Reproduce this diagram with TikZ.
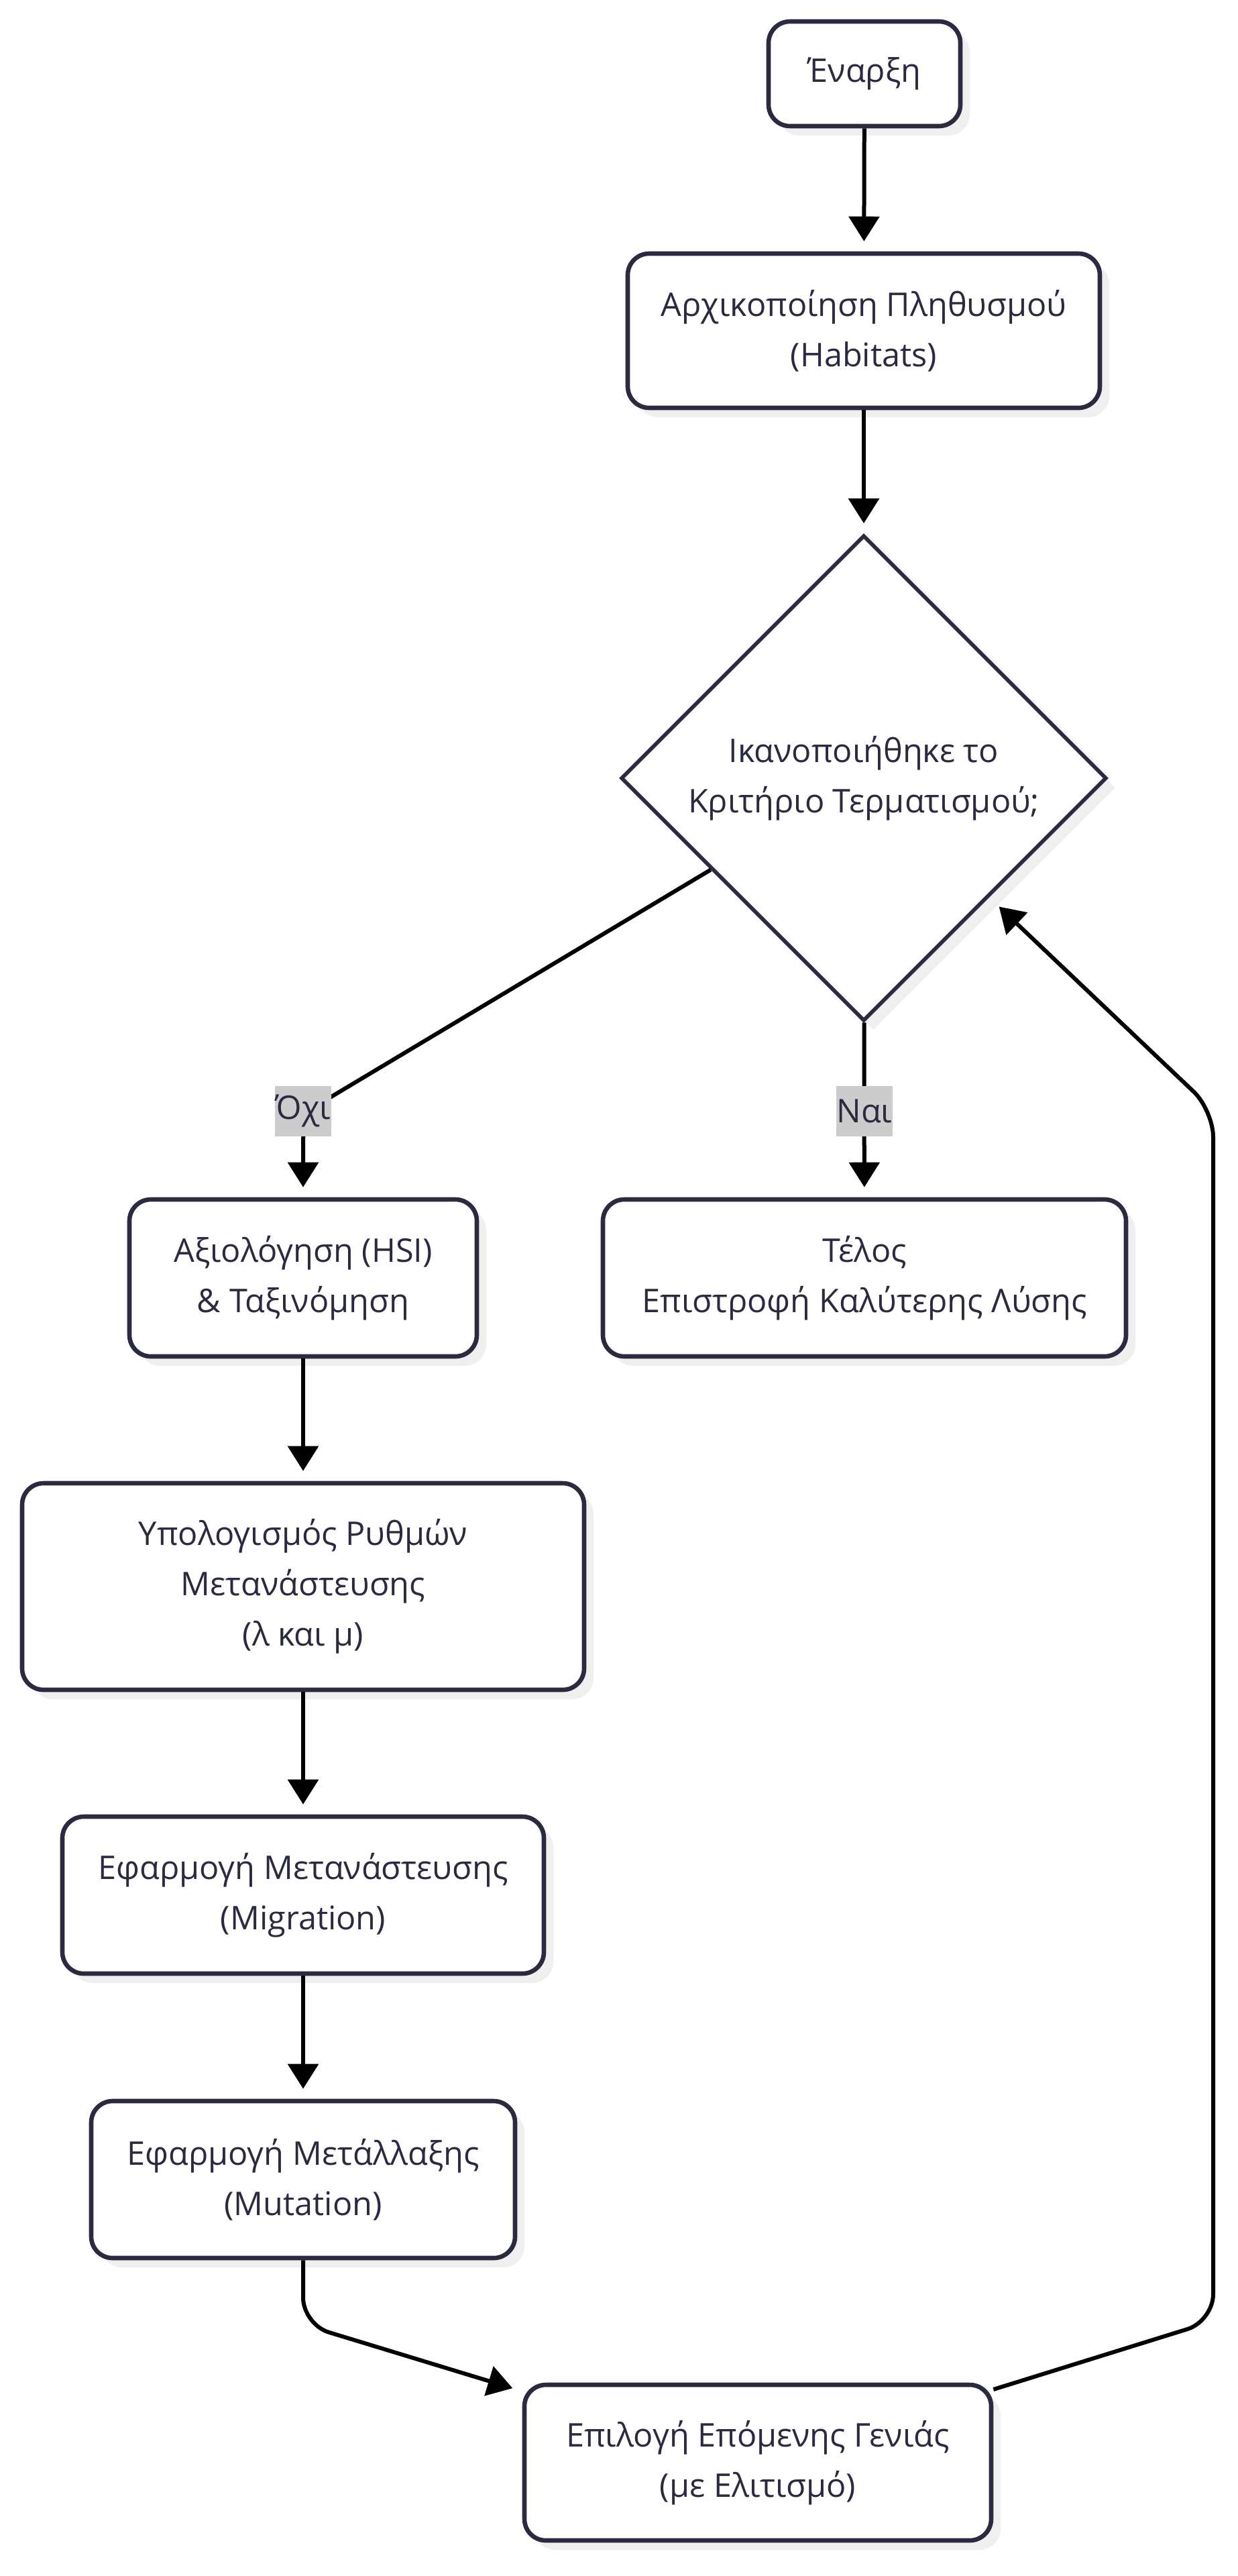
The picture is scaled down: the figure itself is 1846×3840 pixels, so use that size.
\documentclass[tikz,border=0pt]{standalone}
\usepackage{fontspec}
\setmainfont{Open Sans}
\usetikzlibrary{shapes.geometric, arrows.meta, shadows}
\definecolor{ink}{HTML}{2A2A40}
\definecolor{shade}{HTML}{EFEFEF}
\definecolor{tagbg}{HTML}{CCCCCC}

\begin{document}
\begin{tikzpicture}[x=0.5pt, y=-0.5pt,
  every node/.style={font=\fontsize{24.3}{37.5}\selectfont, text=ink},
  stepbox/.style={draw=ink, fill=white, line width=3.3pt, rounded corners=16pt,
    align=center, inner sep=0pt,
    drop shadow={shadow xshift=7pt, shadow yshift=-7pt, fill=shade, opacity=1}},
  decision/.style={diamond, aspect=1, draw=ink, fill=white, line width=2.8pt,
    align=center, inner sep=0pt,
    drop shadow={shadow xshift=7pt, shadow yshift=-7pt, fill=shade, opacity=1}},
  tag/.style={fill=tagbg, inner xsep=0.5pt, inner ysep=0pt, minimum height=37.5pt},
  flow/.style={draw=black, line width=3pt, rounded corners=20pt,
    -{Triangle[length=18.5pt, width=22.5pt]}, shorten >=7.5pt}
]
\path[use as bounding box] (0,0) rectangle (1846,3840);
\fill[white] (0,0) rectangle (1846,3840);

% process steps
\node[stepbox, minimum width=143pt, minimum height=78pt] (start) at (1289,110) {Έναρξη};
\node[stepbox, minimum width=352pt, minimum height=115pt] (init) at (1288,493)
  {Αρχικοποίηση Πληθυσμού\\(Habitats)};
\node[decision, minimum width=362pt, minimum height=362pt] (dec) at (1288,1160)
  {Ικανοποιήθηκε το\\Κριτήριο Τερματισμού;};
\node[stepbox, minimum width=259pt, minimum height=117pt] (eval) at (452,1905)
  {Αξιολόγηση (HSI)\\\& Ταξινόμηση};
\node[stepbox, minimum width=390pt, minimum height=117pt] (finish) at (1289,1905)
  {Τέλος\\Επιστροφή Καλύτερης Λύσης};
\node[stepbox, minimum width=419pt, minimum height=154pt] (rates) at (452,2365)
  {Υπολογισμός Ρυθμών\\Μετανάστευσης\\(λ και μ)};
\node[stepbox, minimum width=359pt, minimum height=117pt] (migr) at (452,2825)
  {Εφαρμογή Μετανάστευσης\\(Migration)};
\node[stepbox, minimum width=316pt, minimum height=117pt] (mut) at (452,3249)
  {Εφαρμογή Μετάλλαξης\\(Mutation)};
\node[stepbox, minimum width=348pt, minimum height=116pt] (sel) at (1130,3671)
  {Επιλογή Επόμενης Γενιάς\\(με Ελιτισμό)};

% bend points of the connectors
\coordinate (noBend) at (452,1660);
\coordinate (mutBend) at (452,3465);
\coordinate (loopLow) at (1809,3460);
\coordinate (loopHigh) at (1809,1655);

% connectors
\draw[flow] (start) -- (init);
\draw[flow] (init) -- (dec);
\draw[flow] (dec) -- (noBend) -- (eval);
\draw[flow] (dec) -- (finish);
\draw[flow] (eval) -- (rates);
\draw[flow] (rates) -- (migr);
\draw[flow] (migr) -- (mut);
\draw[flow] (mut) -- (mutBend) -- (sel);
\draw[flow, shorten >=10pt] (sel) -- (loopLow) -- (loopHigh) -- (dec);

% branch labels
\node[tag] (no) at (452,1656) {Όχι};
\node[tag] (yes) at (1289,1656) {Ναι};
\end{tikzpicture}
\end{document}
